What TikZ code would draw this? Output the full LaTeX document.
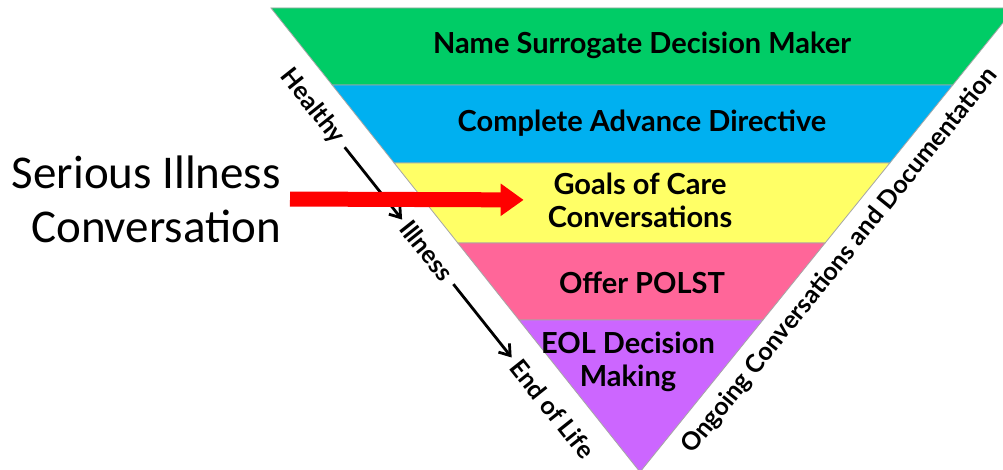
\documentclass[tikz,border=0pt]{standalone}
\usepackage{fontspec}
\newfontfamily\lato{Lato}
\newfontfamily\carlito{Carlito}
\usetikzlibrary{arrows.meta}
\definecolor{bandgreen}{RGB}{0,204,102}
\definecolor{bandblue}{RGB}{0,176,240}
\definecolor{bandyellow}{RGB}{255,255,102}
\definecolor{bandpink}{RGB}{255,102,153}
\definecolor{bandpurple}{RGB}{204,102,255}
\begin{document}
\begin{tikzpicture}[x=1pt,y=-1pt,
  band/.style={draw=gray!70, line width=0.8pt},
  bandtext/.style={font=\lato\bfseries\fontsize{29}{33}\selectfont, align=center, inner sep=0pt},
  sidetext/.style={font=\lato\bfseries\fontsize{25}{29}\selectfont, inner sep=0pt, rotate=-51.5},
  stagearrow/.style={-{Straight Barb[length=10pt,width=14pt]}, line width=2.8pt},
  callout/.style={draw=red, line width=15pt, -{Triangle[length=23pt,width=31pt]}}]
\useasboundingbox (0,0) rectangle (1003,470);
\clip (0,0) rectangle (1003,470);
\fill[white] (0,0) rectangle (1003,470);

% inverted pyramid, five bands from top to apex
\path[band, fill=bandgreen]  (271,8) -- (1015,8) -- (952.8,85) -- (332.2,85) -- cycle;
\path[band, fill=bandblue]   (332.2,85) -- (952.8,85) -- (889.8,163) -- (394.2,163) -- cycle;
\path[band, fill=bandyellow] (394.2,163) -- (889.8,163) -- (825.1,243) -- (457.8,243) -- cycle;
\path[band, fill=bandpink]   (457.8,243) -- (825.1,243) -- (762.9,320) -- (519,320) -- cycle;
\path[band, fill=bandpurple] (519,320) -- (762.9,320) -- (640,472) -- cycle;

% band labels
\node[bandtext] (surrogate) at (642,45)  {Name Surrogate Decision Maker};
\node[bandtext] (directive) at (642,123) {Complete Advance Directive};
\node[bandtext] (goals)     at (640,200) {Goals of Care\\Conversations};
\node[bandtext] (polst)     at (642,283) {Offer POLST};
\node[bandtext] (eoldm)     at (628,362) {EOL Decision\\Making};

% stages along the left edge
\node[sidetext] (healthy) at (312.4,106.6) {Healthy};
\node[sidetext] (illness) at (426.8,250.7) {Illness};
\node[sidetext] (endlife) at (552.5,408.9) {End of Life};
\draw[stagearrow, shorten <=8pt, shorten >=5pt] (healthy) -- (illness);
\draw[stagearrow, shorten <=8pt, shorten >=6pt] (illness) -- (endlife);

% label along the right edge
\node[font=\lato\bfseries\fontsize{25}{29}\selectfont, inner sep=0pt, rotate=51.1]
  (ongoing) at (840,261) {Ongoing Conversations and Documentation};

% serious illness conversation call-out
\node[font=\carlito\fontsize{47}{54}\selectfont, align=right, anchor=east, inner sep=0pt]
  (sic) at (281,199) {Serious Illness\\Conversation};
\draw[callout, shorten <=9pt, shorten >=24pt] (sic.east) -- (goals.west);
\end{tikzpicture}
\end{document}
